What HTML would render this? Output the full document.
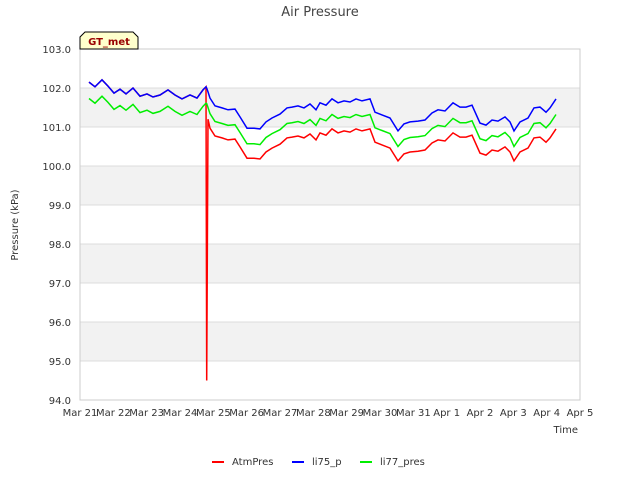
<!DOCTYPE html>
<html><head><meta charset="utf-8"><style>
body{margin:0;background:#fff;font-family:"Liberation Sans","DejaVu Sans",sans-serif}
svg text{font-family:"DejaVu Sans","Liberation Sans",sans-serif}
</style></head><body>
<svg id="chart" width="640" height="480" xmlns="http://www.w3.org/2000/svg"></svg>
<script>
const xTickLabels=["Mar 21","Mar 22","Mar 23","Mar 24","Mar 25","Mar 26","Mar 27","Mar 28","Mar 29","Mar 30","Mar 31","Apr 1","Apr 2","Apr 3","Apr 4","Apr 5"];
const yTickValues=[94,95,96,97,98,99,100,101,102,103];
const days=[0.27,0.45,0.66,0.84,1.02,1.2,1.38,1.59,1.8,2.01,2.19,2.4,2.64,2.85,3.06,3.3,3.51,3.69,3.78,3.8,3.84,3.9,4.05,4.26,4.44,4.65,4.8,5.01,5.22,5.4,5.58,5.76,6.0,6.21,6.36,6.54,6.72,6.9,7.08,7.2,7.38,7.56,7.74,7.92,8.1,8.28,8.46,8.7,8.85,9.06,9.3,9.54,9.72,9.9,10.14,10.35,10.56,10.74,10.95,11.19,11.4,11.58,11.76,12.0,12.18,12.36,12.54,12.75,12.9,13.02,13.2,13.44,13.62,13.8,13.98,14.1,14.28];
const li75=[102.15,102.03,102.21,102.05,101.87,101.97,101.85,102.0,101.79,101.85,101.77,101.82,101.95,101.82,101.72,101.82,101.74,101.95,102.03,102.0,101.9,101.74,101.54,101.49,101.44,101.46,101.26,100.97,100.97,100.95,101.13,101.23,101.33,101.49,101.51,101.54,101.49,101.59,101.44,101.62,101.56,101.72,101.62,101.67,101.64,101.72,101.67,101.72,101.38,101.31,101.23,100.9,101.08,101.13,101.15,101.18,101.36,101.44,101.41,101.62,101.51,101.51,101.56,101.1,101.05,101.18,101.15,101.26,101.13,100.9,101.13,101.23,101.49,101.51,101.38,101.49,101.72];
const atmPres=[102.15,102.03,102.21,102.05,101.87,101.97,101.85,102.0,101.79,101.85,101.77,101.82,101.95,101.82,101.72,101.82,101.74,101.95,102.03,94.5,101.2,100.97,100.77,100.72,100.67,100.69,100.49,100.2,100.2,100.18,100.36,100.46,100.56,100.72,100.74,100.77,100.72,100.82,100.67,100.85,100.79,100.95,100.85,100.9,100.87,100.95,100.9,100.95,100.61,100.54,100.46,100.13,100.31,100.36,100.38,100.41,100.59,100.67,100.64,100.85,100.74,100.74,100.79,100.33,100.28,100.41,100.38,100.49,100.36,100.13,100.36,100.46,100.72,100.74,100.61,100.72,100.95];
const li77=[101.73,101.61,101.79,101.63,101.45,101.55,101.43,101.58,101.37,101.43,101.35,101.4,101.53,101.4,101.3,101.4,101.32,101.53,101.61,101.6,101.5,101.34,101.14,101.09,101.04,101.06,100.86,100.57,100.57,100.55,100.73,100.83,100.93,101.09,101.11,101.14,101.09,101.19,101.04,101.22,101.16,101.32,101.22,101.27,101.24,101.32,101.27,101.32,100.98,100.91,100.83,100.5,100.68,100.73,100.75,100.78,100.96,101.04,101.01,101.22,101.11,101.11,101.16,100.7,100.65,100.78,100.75,100.86,100.73,100.5,100.73,100.83,101.09,101.11,100.98,101.09,101.32];

const NS="http://www.w3.org/2000/svg";
const svg=document.getElementById('chart');
const L=80,R=580,T=49,B=400,X0=0,X1=15,Y0=94,Y1=103;
const xs=d=>L+(d-X0)/(X1-X0)*(R-L);
const ys=v=>B-(v-Y0)/(Y1-Y0)*(B-T);
function mk(tag,attrs,parent){const e=document.createElementNS(NS,tag);for(const k in attrs)e.setAttribute(k,attrs[k]);(parent||svg).appendChild(e);return e;}

// background bands
for(let i=0;i<yTickValues.length-1;i++){
  const v=yTickValues[i];
  if(v%2===1){
    const r=mk('rect',{x:L,y:ys(v+1),width:R-L,height:ys(v)-ys(v+1),fill:'#f2f2f2'});
    
    
  }
}
yTickValues.forEach(v=>{
  const g=mk('line',{x1:L,x2:R,y1:ys(v),y2:ys(v),stroke:'#dcdcdc','stroke-width':1});
  
  
  const t=mk('text',{x:L-9,y:ys(v)+4,'text-anchor':'end','font-size':10,fill:'#333'});
  t.textContent=v.toFixed(1);
  
  
});
const frame=mk('rect',{x:L,y:T,width:R-L,height:B-T,fill:'none',stroke:'#ccc'});


xTickLabels.forEach((s,i)=>{
  const t=mk('text',{x:xs(i),y:416,'text-anchor':'middle','font-size':10,fill:'#333'});
  t.textContent=s;
  
  
});
function series(vals,color,name){
  const p=mk('polyline',{points:vals.map((v,i)=>xs(days[i]).toFixed(1)+','+ys(v).toFixed(1)).join(' '),fill:'none',stroke:color,'stroke-width':1.5});
  
  
}
series(atmPres,'#ff0000','atmpres-line');
series(li75,'#0000ff','li75-p-line');
series(li77,'#00ee00','li77-pres-line');

const title=mk('text',{x:320,y:16,'text-anchor':'middle','font-size':13,fill:'#444'});
title.textContent='Air Pressure';


const yl=mk('text',{x:18,y:225,'text-anchor':'middle','font-size':10,fill:'#333',transform:'rotate(-90 18 225)'});
yl.textContent='Pressure (kPa)';


const xl=mk('text',{x:578,y:433,'text-anchor':'end','font-size':10,fill:'#333'});
xl.textContent='Time';



const gt=mk('path',{d:'M80,49 L80,37 L85,32 L133,32 L138,37 L138,49 Z',fill:'#ffffcc',stroke:'#000','stroke-width':1});


const gtt=mk('text',{x:109,y:45,'text-anchor':'middle','font-size':10,'font-weight':'bold',fill:'#990000'});
gtt.textContent='GT_met';



const legend=[['AtmPres','#ff0000',212],['li75_p','#0000ff',292],['li77_pres','#00ee00',360]];
legend.forEach(([n,c,x])=>{
  const l=mk('line',{x1:x,x2:x+12,y1:462,y2:462,stroke:c,'stroke-width':2});
  
  
  const t=mk('text',{x:x+20,y:465,'font-size':10,fill:'#333'});
  t.textContent=n;
  
  
});
</script>
</body></html>
